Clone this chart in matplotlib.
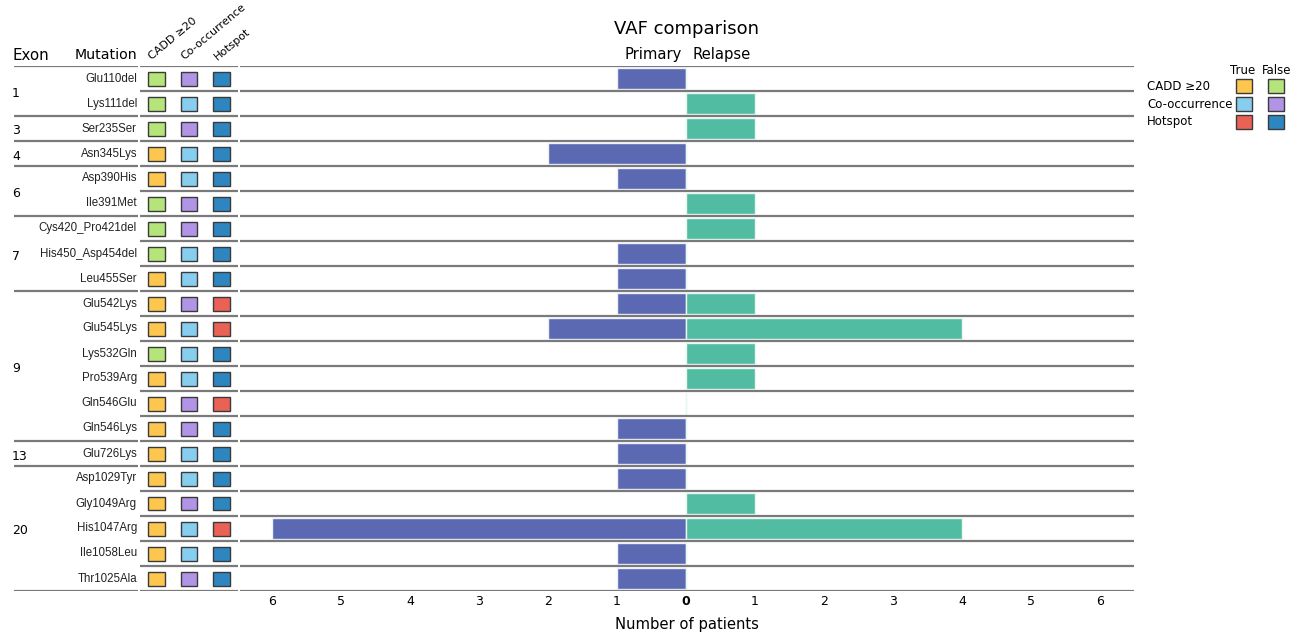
import numpy as np
import matplotlib.pyplot as plt
from matplotlib.patches import Rectangle

plt.rcParams['font.family'] = ['DejaVu Sans']

# rows, top to bottom
exon = ['1', '1', '3', '4', '6', '6', '7', '7', '7', '9', '9', '9', '9', '9', '9',
        '13', '20', '20', '20', '20', '20']
mutation = ['Glu110del', 'Lys111del', 'Ser235Ser', 'Asn345Lys', 'Asp390His', 'Ile391Met',
            'Cys420_Pro421del', 'His450_Asp454del', 'Leu455Ser', 'Glu542Lys', 'Glu545Lys',
            'Lys532Gln', 'Pro539Arg', 'Gln546Glu', 'Gln546Lys', 'Glu726Lys', 'Asp1029Tyr',
            'Gly1049Arg', 'His1047Arg', 'Ile1058Leu', 'Thr1025Ala']
cadd = [0, 0, 0, 1, 1, 0, 0, 0, 1, 1, 1, 0, 1, 1, 1, 1, 1, 1, 1, 1, 1]
cooccurrence = [0, 1, 0, 1, 1, 0, 0, 1, 1, 0, 1, 1, 1, 0, 0, 1, 1, 0, 1, 1, 0]
hotspot = [0, 0, 0, 0, 0, 0, 0, 0, 0, 1, 1, 0, 0, 1, 0, 0, 0, 0, 1, 0, 0]
primary = [1, 0, 0, 2, 1, 0, 0, 1, 1, 1, 2, 0, 0, 0, 1, 1, 1, 0, 6, 1, 1]
relapse = [0, 1, 1, 0, 0, 1, 1, 0, 0, 1, 4, 1, 1, 0, 0, 0, 0, 1, 4, 0, 0]

flag_names = ['CADD \u226520', 'Co-occurrence', 'Hotspot']
flag_colors = {  # (True, False)
    'CADD \u226520': ('#fdc64e', '#b5e47a'),
    'Co-occurrence': ('#87cdee', '#b194e6'),
    'Hotspot': ('#ea6155', '#2e86c1'),
}
flags = [cadd, cooccurrence, hotspot]

W, H = 1304, 633
fig = plt.figure(figsize=(W / 100, H / 100), dpi=100)


def box(x0, y0, x1, y1):
    """pixel box (top-left origin) -> figure fraction rect"""
    return [x0 / W, 1 - y1 / H, (x1 - x0) / W, (y1 - y0) / H]


def fxy(x, y):
    return x / W, 1 - y / H


n = len(mutation)
ylim = (n - 0.5, -0.5)
line_kw = dict(color='#7a7a7a', lw=1.6)

ax_lab = fig.add_axes(box(14, 66, 138, 591))
ax_mat = fig.add_axes(box(140, 66, 238, 591))
ax_bar = fig.add_axes(box(240, 66, 1134, 591))
for ax in (ax_lab, ax_mat, ax_bar):
    ax.set_ylim(*ylim)
    ax.set_yticks([])
    for s in ax.spines.values():
        s.set_visible(False)

# label column: exon groups + mutation names
ax_lab.set_xlim(14, 138)
ax_lab.set_xticks([])
bounds = [-0.5] + [i - 0.5 for i in range(1, n) if exon[i] != exon[i - 1]] + [n - 0.5]
for b in bounds:
    ax_lab.axhline(b, **line_kw)
for a, b in zip(bounds[:-1], bounds[1:]):
    ax_lab.text(12, (a + b) / 2 + 0.1, exon[int(a + 0.5)], ha='left', va='center',
                fontsize=9, clip_on=False)
for i, m in enumerate(mutation):
    ax_lab.text(137, i, m, ha='right', va='center', fontsize=8.3,
                family=['Liberation Sans', 'DejaVu Sans'], color='#222222')

# flag matrix
ax_mat.set_xlim(-0.5, 2.5)
ax_mat.set_xticks([])
for b in np.arange(-0.5, n, 1.0):
    ax_mat.axhline(b, **line_kw)
for j, name in enumerate(flag_names):
    t_col, f_col = flag_colors[name]
    for i, v in enumerate(flags[j]):
        ax_mat.add_patch(Rectangle((j - 0.26, i - 0.28), 0.52, 0.56,
                                   facecolor=t_col if v else f_col,
                                   edgecolor='#3a3a3a', lw=1))

# diverging bars
ypos = np.arange(n)
ax_bar.barh(ypos, -np.array(primary), height=0.82, color='#5b68b2',
            edgecolor='#eef0fa', lw=1)
ax_bar.barh(ypos, relapse, height=0.82, color='#52bca3',
            edgecolor='#e8f7f2', lw=1)
for b in np.arange(-0.5, n, 1.0):
    ax_bar.axhline(b, **line_kw, zorder=3)
ax_bar.set_xlim(-6.46, 6.49)
ticks = np.arange(-6, 7)
ax_bar.set_xticks(ticks)
ax_bar.set_xticklabels([str(abs(t)) for t in ticks], fontsize=9)
ax_bar.get_xticklabels()[6].set_fontweight('bold')
ax_bar.tick_params(axis='x', length=0, pad=3)
ax_bar.set_xlabel('Number of patients', fontsize=10.6, labelpad=6)

# headers
fig.text(*fxy(686, 29), 'VAF comparison', ha='center', va='center', fontsize=13)
fig.text(*fxy(682, 55), 'Primary', ha='right', va='center', fontsize=10.6)
fig.text(*fxy(692, 55), 'Relapse', ha='left', va='center', fontsize=10.6)
fig.text(*fxy(12, 55), 'Exon', ha='left', va='center', fontsize=10.8)
fig.text(*fxy(137, 55), 'Mutation', ha='right', va='center', fontsize=10.2)
for x, name in zip([153, 186, 219], flag_names):
    fig.text(*fxy(x, 62), name, ha='left', va='bottom', rotation=40,
             rotation_mode='anchor', fontsize=8)

# legend for flag colours
ax_leg = fig.add_axes(box(1140, 58, 1300, 134))
ax_leg.set_xlim(1140, 1300)
ax_leg.set_ylim(134, 58)
ax_leg.axis('off')
ax_leg.text(1243, 70, 'True', ha='center', va='center', fontsize=8.5)
ax_leg.text(1277, 70, 'False', ha='center', va='center', fontsize=8.5)
for k, name in enumerate(flag_names):
    y = 86 + 18 * k
    ax_leg.text(1147, y, name, ha='left', va='center', fontsize=8.5)
    t_col, f_col = flag_colors[name]
    ax_leg.add_patch(Rectangle((1236, y - 7), 16, 14, facecolor=t_col,
                               edgecolor='#3a3a3a', lw=1))
    ax_leg.add_patch(Rectangle((1268, y - 7), 16, 14, facecolor=f_col,
                               edgecolor='#3a3a3a', lw=1))

fig.savefig('out.png', dpi=100)
